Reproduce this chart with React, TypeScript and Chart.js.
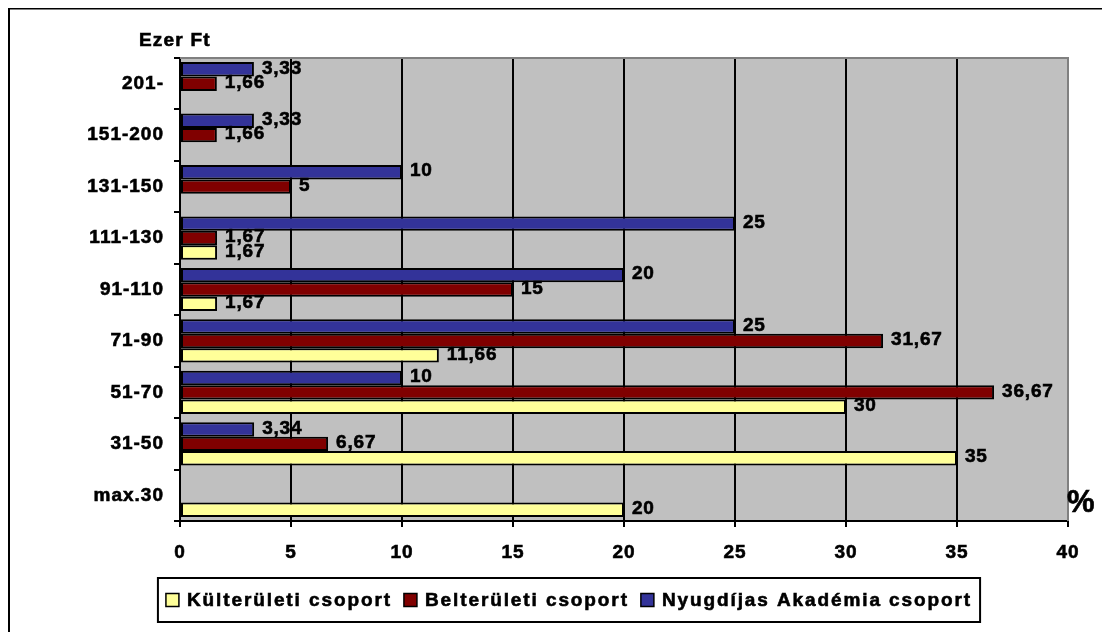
import React, { useEffect, useRef } from "react";
import { Chart, registerables } from "chart.js";

Chart.register(...registerables);

const categories = ["201-", "151-200", "131-150", "111-130", "91-110", "71-90", "51-70", "31-50", "max.30"];
const nyugdijasValues: (number | null)[] = [3.33, 3.33, 10, 25, 20, 25, 10, 3.34, null];
const belteruletiValues: (number | null)[] = [1.66, 1.66, 5, 1.67, 15, 31.67, 36.67, 6.67, null];
const kulteruletiValues: (number | null)[] = [null, null, null, 1.67, 1.67, 11.66, 30, 35, 20];

const seriesNames = ["Nyugdíjas Akadémia csoport", "Belterületi csoport", "Külterületi csoport"];
const seriesColors = ["#333399", "#800000", "#FFFF99"];
const legendOrder = [2, 1, 0];

const xMin = 0;
const xMax = 40;
const xStep = 5;
const yAxisTitle = "Ezer Ft";
const xAxisUnit = "%";

const FONT = '"Liberation Sans", Arial, sans-serif';
const FS = 19;
const STROKE = 0.6;
const fmt = (v: number) => String(v).replace(".", ",");

function heavyText(ctx: CanvasRenderingContext2D, s: string, x: number, y: number) {
  ctx.fillText(s, x, y);
  ctx.lineWidth = STROKE;
  ctx.strokeStyle = "#000";
  ctx.strokeText(s, x, y);
}

export default function App() {
  const ref = useRef<HTMLCanvasElement | null>(null);

  useEffect(() => {
    document.body.style.overflow = "hidden";
    const canvas = ref.current!;
    const allData = [nyugdijasValues, belteruletiValues, kulteruletiValues];

    const decor = {
      id: "decor",
      beforeDraw(chart: any) {
        const ctx = chart.ctx;
        ctx.letterSpacing = "1px";
        const { left, right, top, bottom } = chart.chartArea;
        ctx.save();
        ctx.fillStyle = "#fff";
        ctx.fillRect(0, 0, chart.width, chart.height);
        ctx.strokeStyle = "#000";
        ctx.lineWidth = 2;
        ctx.strokeRect(1, 0.5, chart.width + 20, chart.height + 20);
        ctx.fillStyle = "#C0C0C0";
        ctx.fillRect(left, top, right - left, bottom - top);
        ctx.restore();
      },
      afterDatasetsDraw(chart: any) {
        const ctx = chart.ctx;
        const { left, right, top, bottom } = chart.chartArea;
        ctx.save();
        ctx.strokeStyle = "#808080";
        ctx.lineWidth = 2;
        ctx.beginPath();
        ctx.moveTo(left, top);
        ctx.lineTo(right, top);
        ctx.lineTo(right, bottom);
        ctx.stroke();
        ctx.font = `bold ${FS}px ${FONT}`;
        ctx.letterSpacing = "0.8px";
        ctx.fillStyle = "#000";
        ctx.textAlign = "left";
        ctx.textBaseline = "middle";
        chart.data.datasets.forEach((ds: any, i: number) => {
          const meta = chart.getDatasetMeta(i);
          meta.data.forEach((el: any, j: number) => {
            const v = ds.data[j];
            if (v == null) return;
            heavyText(ctx, fmt(v), el.x + 8, el.y - 1);
          });
        });
        ctx.restore();
      },
      afterDraw(chart: any) {
        const ctx = chart.ctx;
        ctx.save();
        ctx.fillStyle = "#000";
        ctx.textBaseline = "middle";
        ctx.textAlign = "left";
        ctx.font = `bold ${FS}px ${FONT}`;
        ctx.letterSpacing = "1.2px";
        heavyText(ctx, yAxisTitle, 131, 33);
        ctx.letterSpacing = "0px";
        ctx.font = `bold 31px ${FONT}`;
        heavyText(ctx, xAxisUnit, 1059, 495);

        ctx.font = `bold ${FS}px ${FONT}`;
        ctx.letterSpacing = "1.9px";
        const sq = 13;
        const gapSqText = 8;
        const gapItems = 12;
        const pad = 8;
        const widths = legendOrder.map((i) => ctx.measureText(seriesNames[i]).width);
        const content = widths.reduce((a, w) => a + sq + gapSqText + w, 0) + gapItems * (legendOrder.length - 1);
        const cx = 569 - 8;
        const boxW = content + pad * 2;
        const boxL = cx - boxW / 2;
        const boxT = 570;
        const boxH = 44;
        ctx.strokeStyle = "#000";
        ctx.lineWidth = 2;
        ctx.fillStyle = "#fff";
        ctx.fillRect(boxL, boxT, boxW, boxH);
        ctx.strokeRect(boxL, boxT, boxW, boxH);
        let x = boxL + pad;
        const cy = boxT + boxH / 2;
        legendOrder.forEach((i, k) => {
          ctx.fillStyle = seriesColors[i];
          ctx.fillRect(x, cy - sq / 2, sq, sq);
          ctx.lineWidth = 1.5;
          ctx.strokeStyle = "#000";
          ctx.strokeRect(x, cy - sq / 2, sq, sq);
          x += sq + gapSqText;
          ctx.fillStyle = "#000";
          heavyText(ctx, seriesNames[i], x, cy + 1);
          x += widths[k] + gapItems;
        });
        ctx.restore();
      },
    };

    const tickFont = { family: FONT, size: FS, weight: "bold" };

    const chart = new Chart(canvas, {
      type: "bar",
      data: {
        labels: categories,
        datasets: allData.map((d, i) => ({
          label: seriesNames[i],
          data: d,
          backgroundColor: seriesColors[i],
          borderColor: "#000",
          borderWidth: 2,
          borderSkipped: false,
          categoryPercentage: 0.84,
          barPercentage: 1,
        })),
      },
      options: {
        indexAxis: "y",
        animation: false,
        responsive: false,
        devicePixelRatio: 1,
        layout: { padding: { top: 50, right: 42, bottom: 51, left: 0 } },
        plugins: {
          legend: { display: false },
          tooltip: { enabled: false },
        },
        scales: {
          x: {
            min: xMin,
            max: xMax,
            ticks: {
              stepSize: xStep,
              color: "#000",
              font: tickFont,
              padding: 14,
              textStrokeColor: "#000",
              textStrokeWidth: STROKE,
            },
            grid: {
              color: (c: any) => (c.tick && (c.tick.value === xMax || c.tick.value === xMin) ? "rgba(0,0,0,0)" : "#000"),
              tickColor: "#000",
              lineWidth: 2,
              tickLength: 6,
            },
            border: { display: true, color: "#000", width: 2 },
            afterFit: (scale: any) => {
              scale.height = 60;
            },
          },
          y: {
            ticks: {
              color: "#000",
              font: tickFont,
              padding: 10,
              textStrokeColor: "#000",
              textStrokeWidth: STROKE,
            },
            grid: {
              drawOnChartArea: false,
              offset: true,
              tickLength: 6,
              tickColor: "#000",
              color: "#000",
              lineWidth: 2,
            },
            border: { display: true, color: "#000", width: 2 },
            afterFit: (scale: any) => {
              scale.width = 172;
            },
          },
        },
      },
      plugins: [decor],
    } as any);

    return () => chart.destroy();
  }, []);

  return <canvas ref={ref} width={1102} height={624} style={{ display: "block" }} />;
}
